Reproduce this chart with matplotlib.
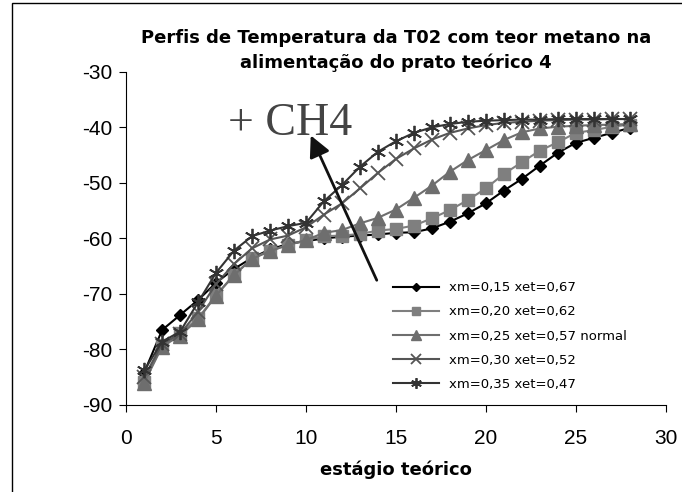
import matplotlib.pyplot as plt
from matplotlib.patches import Rectangle

plt.rcParams['axes.unicode_minus'] = False

# stage numbers (theoretical plates)
stages = list(range(1, 29))

# temperature profiles for each feed composition
t_015 = [-84.2, -76.5, -73.8, -71.1, -68.0, -65.5, -63.5, -62.0, -61.0, -60.5,
         -60.0, -59.7, -59.5, -59.3, -59.0, -58.9, -58.2, -57.0, -55.5, -53.7,
         -51.4, -49.3, -46.9, -44.6, -42.8, -41.9, -41.0, -40.1]
t_020 = [-85.8, -79.2, -77.1, -74.4, -70.2, -66.6, -63.6, -62.2, -61.2, -60.3,
         -59.6, -59.5, -59.2, -58.6, -58.3, -57.7, -56.4, -54.9, -53.1, -51.0,
         -48.4, -46.3, -44.2, -42.7, -41.0, -40.5, -39.9, -39.5]
t_025 = [-86.0, -79.5, -77.5, -74.6, -70.3, -66.6, -63.7, -62.3, -61.2, -60.3,
         -59.0, -58.5, -57.3, -56.3, -54.8, -52.7, -50.5, -48.0, -45.9, -44.1,
         -42.3, -40.9, -40.2, -39.9, -39.7, -39.6, -39.5, -39.4]
t_030 = [-85.0, -79.0, -77.2, -73.2, -68.2, -64.6, -61.8, -60.2, -59.5, -58.0,
         -55.7, -53.7, -51.0, -48.2, -45.7, -43.8, -42.2, -41.0, -40.2, -39.6,
         -39.2, -39.0, -38.8, -38.7, -38.6, -38.6, -38.5, -38.5]
t_035 = [-83.8, -78.6, -76.8, -71.5, -66.2, -62.2, -59.6, -58.6, -57.8, -57.2,
         -53.3, -50.4, -47.1, -44.4, -42.5, -41.0, -40.0, -39.4, -39.0, -38.8,
         -38.7, -38.6, -38.6, -38.5, -38.5, -38.5, -38.5, -38.5]

labels = ['xm=0,15 xet=0,67', 'xm=0,20 xet=0,62', 'xm=0,25 xet=0,57 normal',
          'xm=0,30 xet=0,52', 'xm=0,35 xet=0,47']

fig = plt.figure(figsize=(6.82, 4.92), dpi=100)
ax = fig.add_axes([0.185, 0.177, 0.791, 0.677])

# chart area border (top and left visible)
fig.patches.append(Rectangle((12 / 682, -0.1), 1.2, 1.1 - 3 / 492,
                             transform=fig.transFigure, fill=False,
                             edgecolor='black', linewidth=1.0))

ax.plot(stages, t_015, color='black', marker='D', markersize=6.5, linewidth=1.5,
        label=labels[0])
ax.plot(stages, t_020, color='#7f7f7f', marker='s', markersize=8.5, linewidth=1.5,
        label=labels[1])
ax.plot(stages, t_025, color='#6e6e6e', marker='^', markersize=9.5, linewidth=1.5,
        label=labels[2])
ax.plot(stages, t_030, color='#555555', marker='x', markersize=10,
        markeredgewidth=1.3, linewidth=1.5, label=labels[3])
ax.plot(stages, t_035, color='#333333', marker=(6, 2, 0), markersize=11,
        markeredgewidth=1.3, linewidth=1.5, label=labels[4])

ax.set_xlim(0, 30)
ax.set_ylim(-90, -30)
ax.set_xticks(range(0, 31, 5))
ax.set_yticks(range(-90, -29, 10))
ax.tick_params(labelsize=15, direction='out', length=5)
ax.tick_params(axis='x', pad=12)
ax.tick_params(axis='y', pad=5)
for lab in ax.get_xticklabels() + ax.get_yticklabels():
    lab.set_family('Liberation Sans')
ax.spines['top'].set_visible(False)
ax.spines['right'].set_visible(False)

ax.set_title('Perfis de Temperatura da T02 com teor metano na\n'
             'alimentação do prato teórico 4', fontsize=13,
             fontweight='bold', pad=1, linespacing=1.45)
ax.set_xlabel('estágio teórico', fontsize=13, fontweight='bold', labelpad=9)

# arrow showing the effect of more methane
ax.annotate('', xy=(10.2, -41.0), xytext=(14.0, -68.0),
            arrowprops=dict(arrowstyle='-|>', color='#111111', lw=2,
                            mutation_scale=32))
ax.text(5.65, -41.4, '+ CH4', fontsize=33, family='Liberation Serif',
        color='#444444', va='baseline')

ax.legend(loc='lower left', bbox_to_anchor=(0.472, 0.006), frameon=False,
          fontsize=9.5, handlelength=3.5, labelspacing=0.85, markerscale=0.7)

plt.savefig('out.png', dpi=100)
